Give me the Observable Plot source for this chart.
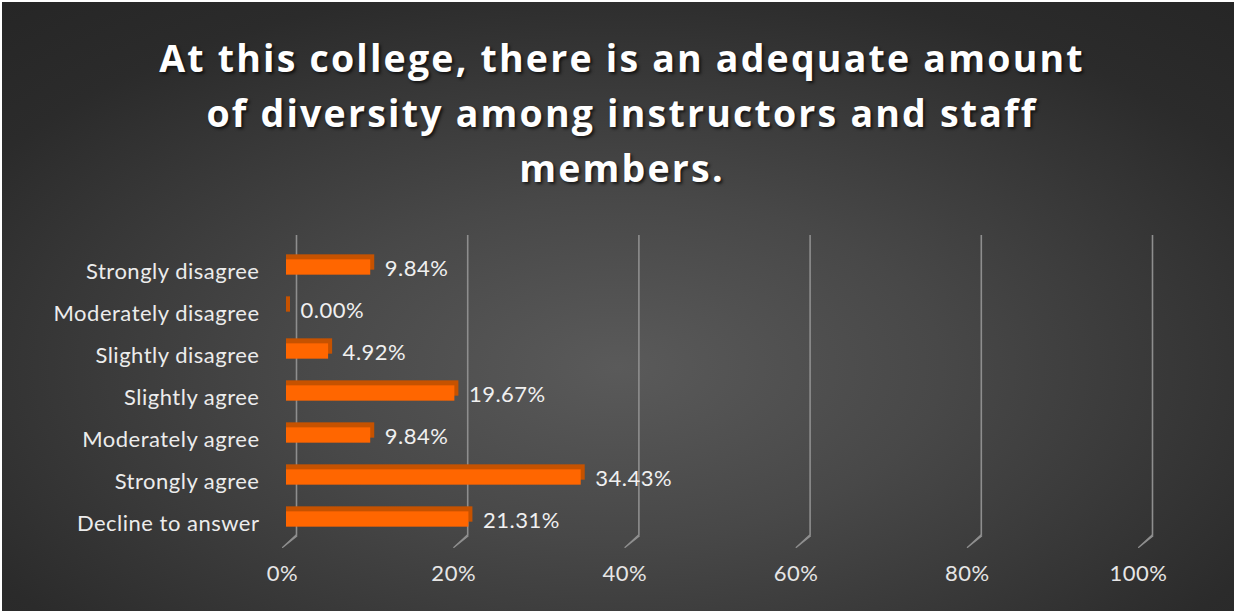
<!DOCTYPE html>
<html>
<head>
<meta charset="utf-8">
<script src="https://cdn.jsdelivr.net/npm/d3@7"></script>
<script src="https://cdn.jsdelivr.net/npm/@observablehq/plot@0.6"></script>
<style>
  html, body { margin: 0; padding: 0; background: #ffffff; }
  #wrap {
    position: absolute; left: 2px; top: 2px; width: 1232px; height: 609px; overflow: hidden;
    background: radial-gradient(ellipse 75% 80% at 50% 60%, #5a5a5a 0%, #484848 35%, #2b2b2b 80%, #262626 100%);
  }
  #title {
    height: 218px; box-sizing: border-box; padding-top: 28px; padding-left: 8px;
    text-align: center; color: #ffffff;
    font-family: "Open Sans", sans-serif; font-weight: 700; font-size: 37.5px;
    letter-spacing: 2.2px; line-height: 55px;
    text-shadow: 2px 2px 3px rgba(0,0,0,0.65);
  }
  #chart svg { display: block; background: transparent; }
  #chart svg text { letter-spacing: 0.5px; }
</style>
</head>
<body>
<div id="wrap">
  <div id="title">At this college, there is an adequate amount<br>of diversity among instructors and staff<br>members.</div>
  <div id="chart"></div>
</div>
<script>
const categories = ["Strongly disagree", "Moderately disagree", "Slightly disagree", "Slightly agree", "Moderately agree", "Strongly agree", "Decline to answer"];
const values = [0.0984, 0.0000, 0.0492, 0.1967, 0.0984, 0.3443, 0.2131];
const valueLabels = ["9.84%", "0.00%", "4.92%", "19.67%", "9.84%", "34.43%", "21.31%"];
const tickValues = [0, 0.2, 0.4, 0.6, 0.8, 1.0];
const tickLabels = ["0%", "20%", "40%", "60%", "80%", "100%"];

const data = categories.map((c, i) => ({category: c, value: values[i], label: valueLabels[i]}));
const ticks = tickValues.map((t, i) => ({t, label: tickLabels[i]}));

const font = "Lato, 'Open Sans', sans-serif";
const gridColor = "#8e8e8e";

const chart = Plot.plot({
  width: 1232,
  height: 391,
  marginTop: 15,
  marginBottom: 76,
  marginLeft: 284,
  marginRight: 92,
  style: {background: "transparent", fontFamily: font},
  x: {domain: [0, 1], range: [284, 1140], axis: null},
  y: {domain: categories, range: [23.67, 322.33], padding: 0, axis: null},
  marks: [
    // back-wall gridlines
    Plot.ruleX(ticks, {x: "t", dx: 10, stroke: gridColor, strokeWidth: 1.6}),
    // floor diagonals
    Plot.vector(ticks, {x: "t", frameAnchor: "bottom", dx: 10, length: 18.4, rotate: 229.4, shape: "spike", r: 0.6, anchor: "start", stroke: gridColor, fill: gridColor, strokeWidth: 1.2}),
    // bar depth (top + side faces)
    Plot.barX(data, {y: "category", x1: 0, x2: "value", fill: "#c65200", insetTop: 13.33, insetBottom: 13.33, insetRight: -4, dy: -5}),
    // bar front face
    Plot.barX(data, {y: "category", x1: 0, x2: "value", fill: "#ff6600", insetTop: 13.33, insetBottom: 13.33}),
    // value labels
    Plot.text(data, {y: "category", x: "value", text: "label", textAnchor: "start", dx: 14, dy: 1, fill: "#f0f0f0", fontSize: 22, fontFamily: font}),
    // category labels
    Plot.text(data, {y: "category", x: 0, text: "category", textAnchor: "end", dx: -27, dy: 4, fill: "#ececec", fontSize: 22, fontFamily: font}),
    // x tick labels
    Plot.text(ticks, {x: "t", text: "label", frameAnchor: "bottom", dx: -4, dy: 45, fill: "#e6e6e6", fontSize: 22, fontFamily: font})
  ]
});
document.getElementById("chart").appendChild(chart);
</script>
</body>
</html>
